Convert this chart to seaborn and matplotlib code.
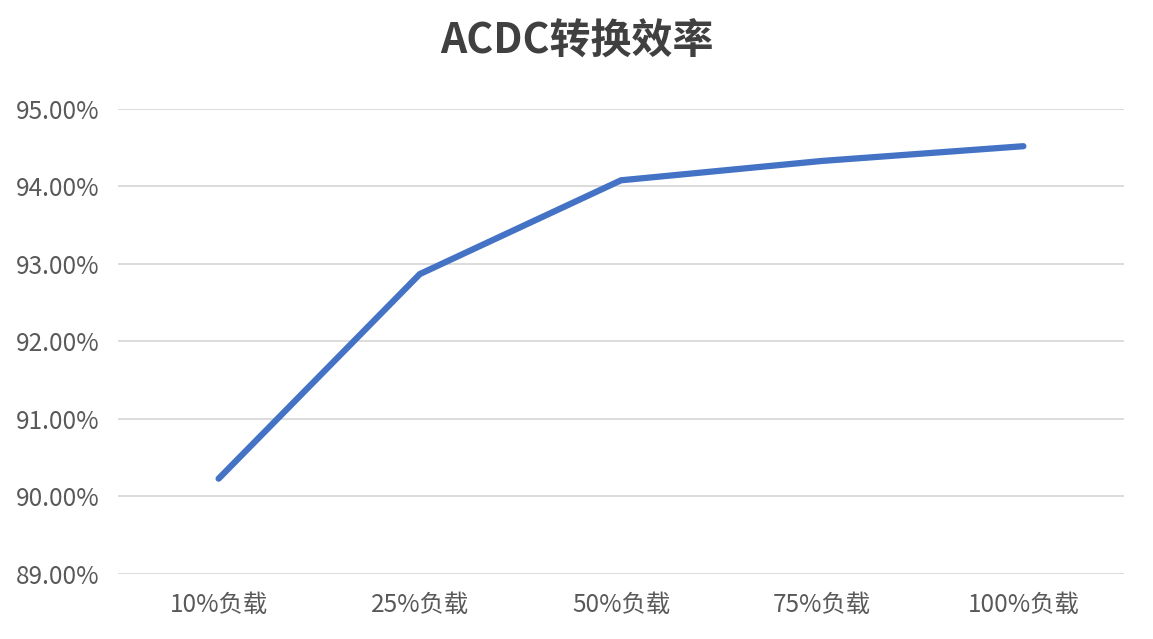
import matplotlib
matplotlib.use("Agg")
import matplotlib.pyplot as plt
import seaborn as sns
import pandas as pd
from matplotlib.ticker import FuncFormatter, MultipleLocator

categories = ["10%负载", "25%负载", "50%负载", "75%负载", "100%负载"]
efficiency = [90.23, 92.87, 94.08, 94.33, 94.52]

sns.set_theme(style="white")
plt.rcParams['font.family'] = ['Noto Sans CJK SC', 'DejaVu Sans']

df = pd.DataFrame({"load": categories, "eff": efficiency})

fig = plt.figure(figsize=(11.53, 6.39), dpi=100)
ax = fig.add_axes([118/1153, 1-574/639, (1124-118)/1153, (574-109)/639])

sns.lineplot(data=df, x="load", y="eff", ax=ax, color="#4472C4",
             linewidth=4.5, sort=False, solid_capstyle="round", solid_joinstyle="miter")

ax.set_xlim(-0.5, len(categories)-0.5)
ax.set_ylim(89, 95)
ax.yaxis.set_major_locator(MultipleLocator(1))
ax.yaxis.set_major_formatter(FuncFormatter(lambda v, p: f"{v:.2f}%"))
ax.grid(axis="y", color="#D9D9D9", linewidth=1.3)
ax.set_axisbelow(True)
for s in ax.spines.values():
    s.set_visible(False)
ax.set_xlabel("")
ax.set_ylabel("")
ax.tick_params(axis="both", length=0, labelsize=17.5, labelcolor="#595959")
ax.tick_params(axis="y", pad=13)
ax.tick_params(axis="x", pad=13)

fig.text(0.5, 1-42/639, "ACDC转换效率", ha="center", va="center",
         fontsize=29.5, fontweight="bold", color="#404040")

fig.savefig("out.png", dpi=100, facecolor="white")
